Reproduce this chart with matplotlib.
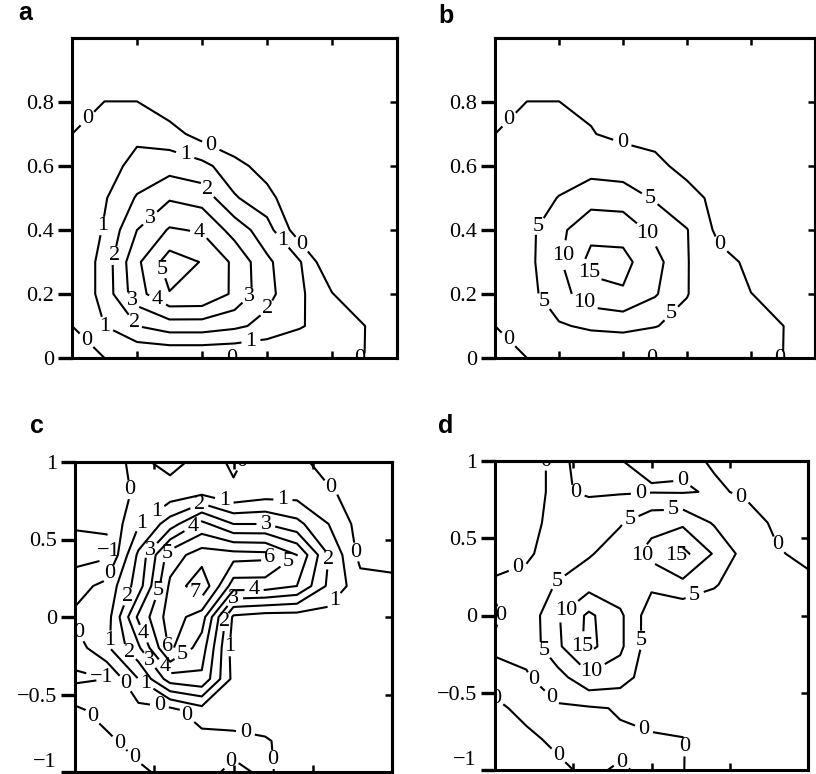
import matplotlib
matplotlib.use("Agg")
import matplotlib.pyplot as plt
import numpy as np

plt.rcParams['font.family'] = ['Liberation Serif', 'DejaVu Serif']
plt.rcParams['axes.unicode_minus'] = True

# ---------------- data ----------------
grid_ab = [0.0, 0.1, 0.2, 0.3, 0.4, 0.5, 0.6, 0.7, 0.8, 0.9, 1.0]
grid_cd = [-1.0, -0.8, -0.6, -0.4, -0.2, 0.0, 0.2, 0.4, 0.6, 0.8, 1.0]

# panel a values, rows from y=0 (bottom) to y=1 (top)
z_a = [
    [0, 0, 0, 0, 0, 0, 0, 0, 0, 0, -1],
    [0, 1.0, 2.0, 2.5, 2.5, 2.2, 1.7, 1.1, 0.5, 0.02, -1],
    [0, 1.4, 3.6, 4.95, 4.9, 3.8, 2.3, 1.2, 0.05, -1, -1],
    [0, 1.4, 3.8, 5.5, 4.95, 3.8, 2.2, 1.1, -1, -1, -1],
    [0, 1.1, 3.0, 4.1, 3.9, 2.6, 1.4, -0.6, -1, -1, -1],
    [0, 0.9, 2.1, 2.9, 2.6, 1.1, 0.4, -1, -1, -1, -1],
    [0, 0.6, 1.3, 1.6, 1.3, 0.4, -0.5, -1, -1, -1, -1],
    [0, 0.4, 0.8, 0.4, -0.4, -1, -1, -1, -1, -1, -1],
    [-1, 0.02, 0.02, -0.6, -1, -1, -1, -1, -1, -1, -1],
    [-1, -1, -1, -1, -1, -1, -1, -1, -1, -1, -1],
    [-1, -1, -1, -1, -1, -1, -1, -1, -1, -1, -1],
]
levels_a = [0, 1, 2, 3, 4, 5]

# panel b values, rows from y=0 to y=1
z_b = [
    [0, 0, 0, 0, 0, 0, 0, 0, 0, 0, -1],
    [0, 1.5, 4.5, 5.8, 6.3, 5.2, 3.5, 2.0, 1.0, 0.02, -1],
    [0, 3.3, 8.0, 13.0, 14.5, 10.5, 5.2, 1.3, 0.05, -1, -1],
    [0, 3.5, 9.3, 16.6, 16.4, 11.8, 5.2, 1.7, -1, -1, -1],
    [0, 3.5, 8.8, 13.5, 13.3, 8.5, 5.2, -1.3, -1, -1, -1],
    [0, 2.5, 5.2, 8.0, 7.5, 4.5, 1.2, -1, -1, -1, -1],
    [0, 1.2, 2.5, 3.0, 2.5, 0.8, -1, -1, -1, -1, -1],
    [0, 0.6, 0.8, 0.2, -1, -1, -1, -1, -1, -1, -1],
    [-1, 0.02, 0.02, -0.6, -1, -1, -1, -1, -1, -1, -1],
    [-1, -1, -1, -1, -1, -1, -1, -1, -1, -1, -1],
    [-1, -1, -1, -1, -1, -1, -1, -1, -1, -1, -1],
]
levels_b = [0, 5, 10, 15]

# panel c values, rows listed from y=1 (top) to y=-1 (bottom)
z_c_top_down = [
    [-0.3, -0.3, 0.2, -0.3, 0.3, -0.1, 0.3, 0.2, -0.3, -0.3, -0.3],
    [-0.3, -0.3, 0.1, 0.4, 0.8, 0.1, 0.5, 0.6, 0.1, -0.3, -0.4],
    [-0.9, -0.9, 0.9, 2.5, 4.3, 3.0, 3.0, 2.3, 1.0, -0.4, -0.5],
    [-1.4, -1.2, 2.2, 5.5, 6.5, 6.4, 6.3, 5.0, 2.0, -0.3, -0.4],
    [-0.4, 0.3, 2.5, 6.2, 7.8, 4.5, 4.5, 4.0, 1.8, 0.4, 0.3],
    [0.2, 0.5, 4.2, 6.5, 5.5, 0.8, 0.5, 0.5, 0.6, 0.6, 0.5],
    [-0.5, 0.8, 2.8, 6.2, 4.5, 0.5, 0.5, 0.5, 0.5, 0.5, 0.5],
    [-1.2, -1.0, 1.0, 3.5, 3.8, 0.7, 0.5, 0.5, 0.5, 0.5, 0.5],
    [0.2, -0.4, -0.3, -0.3, 0.6, 0.6, 0.6, 0.5, 0.5, 0.5, 0.5],
    [0.3, 0.2, -0.4, -0.4, -0.4, -0.3, -0.1, 0.4, 0.5, 0.5, 0.5],
    [0.3, 0.3, 0.2, -0.3, -0.3, 0.2, -0.15, 0.4, 0.5, 0.5, 0.5],
]
levels_c = [-1, 0, 1, 2, 3, 4, 5, 6, 7]

# panel d values, rows listed from y=1 (top) to y=-1 (bottom)
z_d_top_down = [
    [-0.5, -0.5, 0.3, -0.5, -0.05, 0.5, 0.5, -0.2, -0.5, -0.5, -0.5],
    [-0.5, -0.5, 0.3, -0.3, -0.4, -0.2, -0.3, 0.3, -0.3, -0.5, -0.5],
    [-0.2, -0.3, 0.3, 1.5, 4.6, 8.5, 9.0, 4.5, 1.0, -0.4, -0.5],
    [-0.8, -0.5, 1.5, 4.5, 7.5, 11.5, 16.5, 9.5, 3.0, 0.2, -0.5],
    [0.3, 1.0, 5.5, 8.0, 6.5, 6.0, 8.5, 5.5, 2.0, 1.0, 0.5],
    [-0.3, 1.5, 9.5, 16.0, 11.0, 2.0, 1.0, 1.5, 1.8, 1.8, 1.8],
    [0.3, 1.5, 9.0, 16.5, 11.0, 2.0, 2.0, 2.0, 2.0, 2.0, 2.0],
    [-0.6, -0.5, 3.0, 9.0, 7.5, 1.8, 2.0, 2.0, 2.0, 2.0, 2.0],
    [0.3, -0.4, -0.6, -0.5, 0.3, 1.0, 1.5, 2.0, 2.0, 2.0, 2.0],
    [0.4, 0.3, -0.3, -0.5, -0.5, -0.3, -0.1, 1.5, 2.0, 2.0, 2.0],
    [0.4, 0.4, 0.3, -0.3, 0.2, -0.4, -0.05, 1.0, 1.5, 1.5, 1.5],
]
levels_d = [0, 5, 10, 15]

# tick labels
yticks_ab = [0, 0.2, 0.4, 0.6, 0.8]
yticklabels_ab = ['0', '0.2', '0.4', '0.6', '0.8']
xticks_ab = [0.2, 0.4, 0.6, 0.8]
yticks_cd = [-1, -0.5, 0, 0.5, 1]
yticklabels_cd = ['\u22121', '\u22120.5', '0', '0.5', '1']
xticks_cd = [-0.5, 0, 0.5]
panel_letters = ['a', 'b', 'c', 'd']

# where contour labels sit (data coordinates; snapped to nearest contour)
label_spots_a = [(0.095, 0.70), (0.35, 0.64), (0.43, 0.67), (0.41, 0.52), (0.22, 0.46),
                 (0.11, 0.41), (0.39, 0.38), (0.65, 0.37), (0.70, 0.35), (0.13, 0.32),
                 (0.27, 0.275), (0.18, 0.175), (0.26, 0.175), (0.54, 0.20), (0.59, 0.16),
                 (0.10, 0.10), (0.19, 0.11), (0.55, 0.056), (0.045, 0.056), (0.49, 0.0),
                 (0.885, 0.0)]
label_spots_b = [(0.09, 0.70), (0.39, 0.65), (0.70, 0.35), (0.47, 0.48), (0.14, 0.41),
                 (0.48, 0.39), (0.22, 0.32), (0.30, 0.27), (0.29, 0.19), (0.17, 0.19),
                 (0.56, 0.13), (0.04, 0.056), (0.49, 0.0), (0.89, 0.0)]
label_spots_c = [(0.2, 0.99), (-0.59, 0.83), (-0.53, 0.74), (-0.21, 0.71), (-0.054, 0.77),
                 (0.31, 0.71), (0.6, 0.82), (-0.57, 0.59), (-0.26, 0.59), (0.20, 0.58),
                 (0.78, 0.42), (-0.84, 0.42), (-0.51, 0.42), (-0.43, 0.42), (0.24, 0.37),
                 (0.36, 0.34), (0.58, 0.37), (-0.81, 0.29), (-0.24, 0.16), (-0.45, 0.16),
                 (-0.69, 0.14), (0.13, 0.16), (0.0, 0.13), (0.6, 0.14), (-0.05, -0.03),
                 (-0.90, -0.06), (-0.75, -0.15), (-0.55, -0.10), (-0.42, -0.19),
                 (-0.045, -0.19), (-0.65, -0.22), (-0.32, -0.24), (-0.53, -0.28),
                 (-0.42, -0.31), (-0.83, -0.38), (-0.67, -0.42), (-0.55, -0.42),
                 (-0.81, -0.56), (-0.47, -0.59), (-0.33, -0.68), (0.08, -0.72),
                 (-0.65, -0.74), (-0.58, -0.86), (0.0, -0.95), (0.24, -0.92)]
label_spots_d = [(-0.62, 1.0), (0.19, 1.0), (-0.50, 0.75), (-0.07, 0.78), (0.6, 0.83),
                 (0.14, 0.68), (-0.1, 0.53), (0.79, 0.44), (-0.87, 0.35), (-0.07, 0.37),
                 (0.15, 0.37), (-0.6, 0.22), (0.28, 0.12), (-0.55, 0.04), (-0.85, -0.02),
                 (-0.09, -0.16), (-0.45, -0.21), (-0.68, -0.22), (-0.39, -0.35),
                 (-0.71, -0.37), (-0.93, -0.45), (-0.61, -0.50), (-0.05, -0.74),
                 (0.2, -0.85), (-0.55, -0.86), (-0.2, -0.96)]

# ---------------- figure ----------------
W, H = 816, 774
fig = plt.figure(figsize=(W / 100, H / 100), dpi=100)
fig.patch.set_facecolor('white')


def px_axes(left, top, right, bottom):
    return fig.add_axes([left / W, 1 - bottom / H, (right - left) / W, (bottom - top) / H])


ax_a = px_axes(72, 38, 397, 358)
ax_b = px_axes(495, 38, 815, 358)
ax_c = px_axes(75, 462, 392, 772)
ax_d = px_axes(495, 461, 808, 770)

LW_SPINE = 2.2
LW_LINE = 1.5


def style_axes(ax, lims, yt, ytl, xt):
    ax.set_xlim(*lims)
    ax.set_ylim(*lims)
    for s in ax.spines.values():
        s.set_linewidth(LW_SPINE)
    ax.set_yticks(yt)
    ax.set_yticklabels(ytl)
    ax.set_xticks(xt)
    ax.set_xticklabels([])
    ax.tick_params(axis='y', direction='out', length=10, width=2.4, labelsize=16, pad=3)
    ax.tick_params(axis='x', direction='in', length=5, width=1.8)
    sec_r = ax.secondary_yaxis('right')
    sec_r.set_yticks([t for t in yt if lims[0] < t < lims[1]])
    sec_r.tick_params(direction='in', length=5, width=1.8, labelright=False)
    sec_r.spines['right'].set_linewidth(LW_SPINE)
    sec_t = ax.secondary_xaxis('top')
    sec_t.set_xticks(xt)
    sec_t.tick_params(direction='in', length=5, width=1.8, labeltop=False)
    sec_t.spines['top'].set_linewidth(LW_SPINE)
    if lims[0] < 0:
        ax.get_yticklabels()[0].set_verticalalignment('bottom')


def level_text(v):
    return ('%d' % round(v)).replace('-', '\u2212')


def draw(ax, gx, z, levels, spots):
    X, Y = np.meshgrid(gx, gx)
    cs = ax.contour(X, Y, np.array(z, dtype=float), levels=levels, colors='black',
                    linewidths=LW_LINE, linestyles='solid')
    ax.set_xlim(gx[0], gx[-1])
    ax.set_ylim(gx[0], gx[-1])
    ax.clabel(cs, fmt=level_text, fontsize=16, inline=True, inline_spacing=4,
              manual=spots)
    for t in cs.labelTexts:
        t.set_rotation(0)
        t.set_fontfamily(['Liberation Serif', 'DejaVu Serif'])
    return cs


draw(ax_a, grid_ab, z_a, levels_a, label_spots_a)
draw(ax_b, grid_ab, z_b, levels_b, label_spots_b)
draw(ax_c, grid_cd, np.array(z_c_top_down)[::-1], levels_c, label_spots_c)
draw(ax_d, grid_cd, np.array(z_d_top_down)[::-1], levels_d, label_spots_d)

style_axes(ax_a, (0, 1), yticks_ab, yticklabels_ab, xticks_ab)
style_axes(ax_b, (0, 1), yticks_ab, yticklabels_ab, xticks_ab)
style_axes(ax_c, (-1, 1), yticks_cd, yticklabels_cd, xticks_cd)
style_axes(ax_d, (-1, 1), yticks_cd, yticklabels_cd, xticks_cd)

letter_pos = [(18, 20), (438, 23), (30, 433), (438, 433)]
for letter, (lx, ly) in zip(panel_letters, letter_pos):
    fig.text(lx / W, 1 - ly / H, letter, fontsize=18, fontweight='bold',
             family=['Liberation Sans', 'DejaVu Sans'], ha='left', va='baseline')

fig.savefig('out.png', dpi=100, facecolor='white')
